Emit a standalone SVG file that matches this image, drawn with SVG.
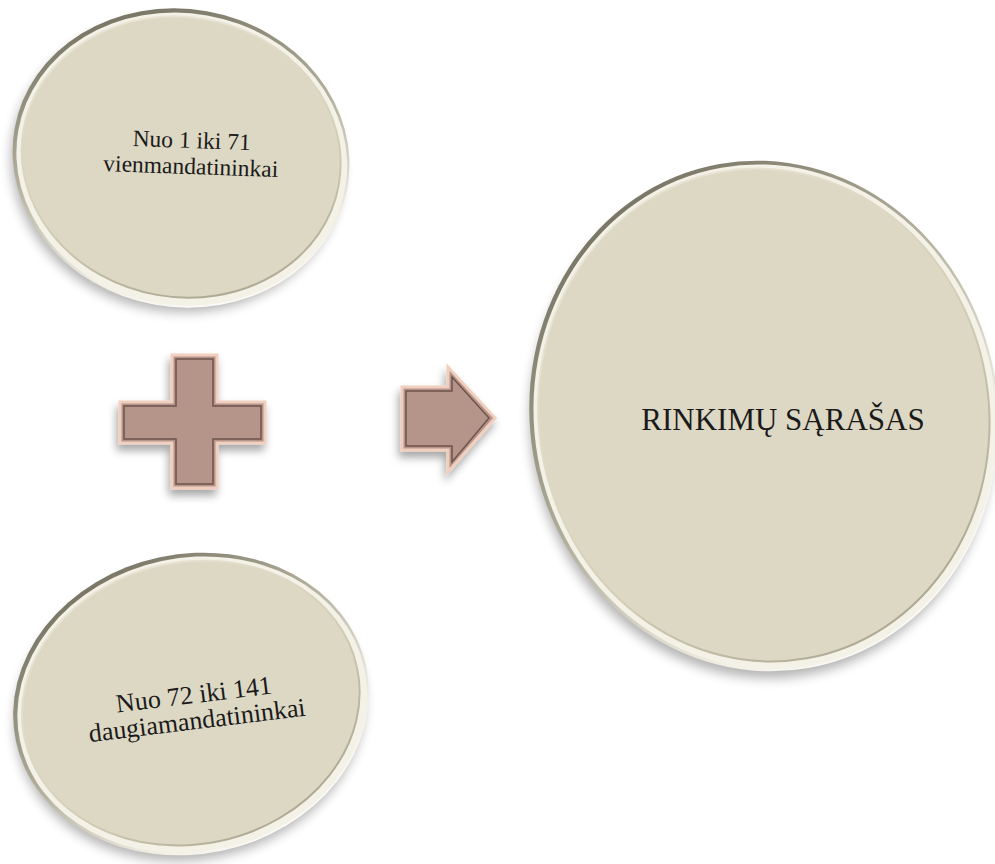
<svg xmlns="http://www.w3.org/2000/svg" width="995" height="864" viewBox="0 0 995 864">
<style>
.rim{fill:url(#rimGrad)}
.hl{fill:#f4f1e6}
.face{fill:#ddd8c4;stroke:url(#innerGrad);stroke-width:2}
.shadow{fill:#000;opacity:0.3;filter:url(#blur)}
.lbl{font-family:"Liberation Serif","Times New Roman",serif;fill:#1a1a1a;text-anchor:middle}
.sym{fill:#b5958a;stroke:#f0cfbf;stroke-width:3;stroke-linejoin:miter}
.symIn{fill:none;stroke:#6e544b;stroke-width:1.5}
</style>
<defs>
<linearGradient id="rimGrad" x1="0.2" y1="0" x2="0.75" y2="1">
<stop offset="0" stop-color="#6f6c5c"/>
<stop offset="0.45" stop-color="#b3af9c"/>
<stop offset="0.8" stop-color="#f2efe6"/>
<stop offset="1" stop-color="#ffffff"/>
</linearGradient>
<linearGradient id="innerGrad" x1="0.2" y1="0" x2="0.75" y2="1">
<stop offset="0" stop-color="#ece8da"/>
<stop offset="0.6" stop-color="#d3cdb6"/>
<stop offset="1" stop-color="#a9a48f"/>
</linearGradient>
<filter id="blur" x="-30%" y="-30%" width="160%" height="160%">
<feGaussianBlur stdDeviation="6"/>
</filter>
<filter id="symShadow" x="-30%" y="-30%" width="160%" height="160%">
<feDropShadow dx="-2" dy="6" stdDeviation="4" flood-color="#000" flood-opacity="0.35"/>
</filter>
</defs>

<g id="node-top">
<g transform="translate(181,158) rotate(10)">
<ellipse class="shadow" cx="-3" cy="8" rx="166" ry="146"/>
<ellipse class="rim" cx="0" cy="0" rx="169" ry="149"/>
<ellipse class="hl" cx="1" cy="1" rx="166" ry="146"/>
<ellipse class="face" cx="0" cy="-1" rx="160" ry="140"/>
</g>
<g transform="rotate(2 190 160)">
<text class="lbl" x="191" y="148" font-size="23.5">Nuo 1 iki 71</text>
<text class="lbl" x="191" y="174" font-size="23.5">vienmandatininkai</text>
</g>
</g>

<g id="node-bottom">
<g transform="translate(191,704) rotate(-12)">
<ellipse class="shadow" cx="-3" cy="8" rx="176" ry="147"/>
<ellipse class="rim" cx="0" cy="0" rx="179" ry="150"/>
<ellipse class="hl" cx="1" cy="1" rx="176" ry="147"/>
<ellipse class="face" cx="0" cy="-1" rx="170" ry="141"/>
</g>
<g transform="rotate(-7 196 712)">
<text class="lbl" x="196" y="703" font-size="26">Nuo 72 iki 141</text>
<text class="lbl" x="196" y="729" font-size="26">daugiamandatininkai</text>
</g>
</g>

<g id="node-result">
<g transform="translate(764,416) rotate(-10)">
<ellipse class="shadow" cx="-4" cy="9" rx="231" ry="253"/>
<ellipse class="rim" cx="0" cy="0" rx="234" ry="256"/>
<ellipse class="hl" cx="1" cy="1" rx="231" ry="253"/>
<ellipse class="face" cx="0" cy="-1" rx="225" ry="247"/>
</g>
<text class="lbl" x="783" y="430" font-size="31">RINKIMŲ SĄRAŠAS</text>
</g>

<g id="plus" filter="url(#symShadow)">
<path class="sym" d="M172,355 H217 V402 H265 V443 H217 V488 H172 V443 H120 V402 H172 Z"/>
<path class="symIn" d="M176,359 H213 V406 H261 V439 H213 V484 H176 V439 H124 V406 H176 Z"/>
</g>

<g id="connectors">
<g filter="url(#symShadow)">
<path class="sym" d="M402,387 H448 V367 L495,418 L448,472 V450 H402 Z"/>
<path class="symIn" d="M406,391 H452 V377 L489,418 L452,462 V446 H406 Z"/>
</g>
</g>
</svg>
